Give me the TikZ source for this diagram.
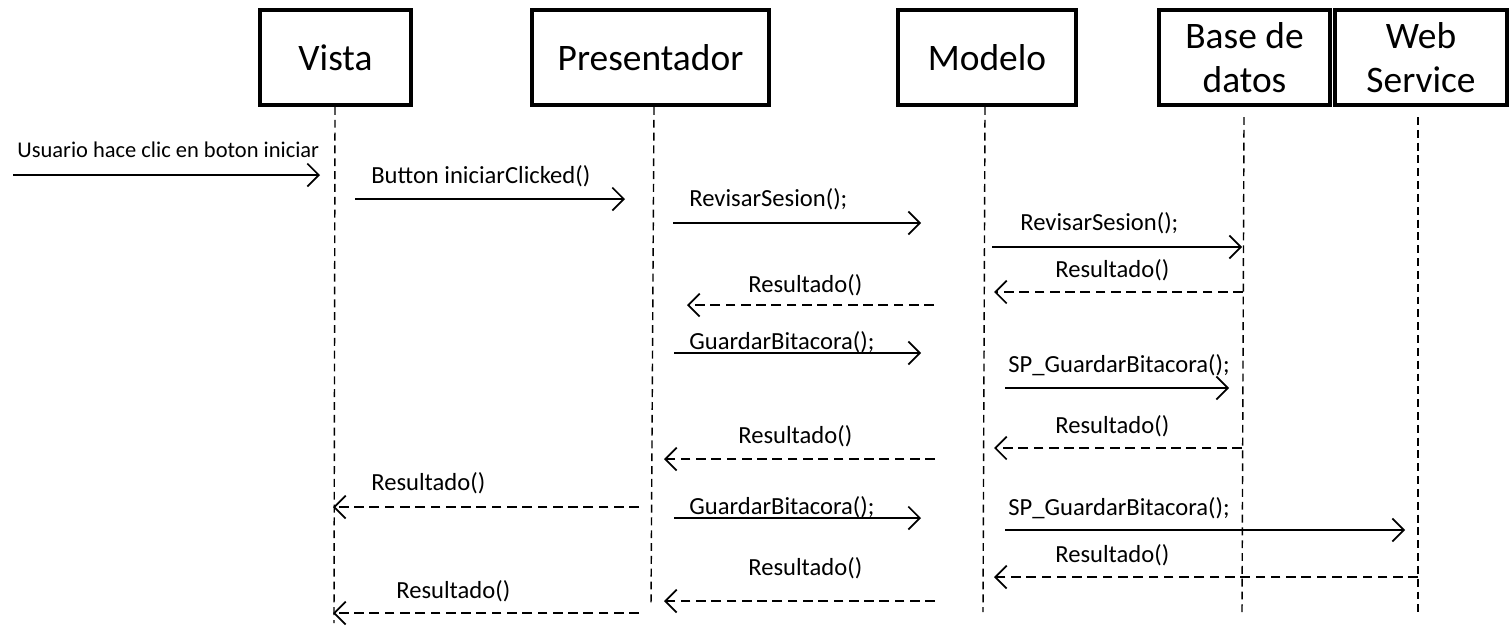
\documentclass[tikz,border=0pt]{standalone}
\usepackage{fontspec}
\setmainfont{Carlito}
\usetikzlibrary{arrows.meta}
\begin{document}
\begin{tikzpicture}[x=0.02cm,y=-0.02cm,
  box/.style={draw,line width=1.9pt,inner sep=0pt,align=center,minimum height=1.9cm,
    font=\fontsize{21.3}{25}\selectfont},
  life/.style={line width=0.8pt,dash pattern=on 4.5pt off 2.8pt},
  msg/.style={line width=1pt,-{Straight Barb[length=6.5pt,width=13pt,line width=1pt]}},
  ret/.style={msg,dash pattern=on 5.5pt off 3.2pt},
  lbl/.style={anchor=base west,inner sep=0pt,font=\fontsize{14}{16}\selectfont}]
\useasboundingbox (0,0) rectangle (1510,627);

% participants
\node[box,minimum width=3.02cm] (vista) at (335.5,57.5) {Vista};
\node[box,minimum width=4.74cm] (pres) at (650.5,57.5) {Presentador};
\node[box,minimum width=3.56cm] (modelo) at (987,57.5) {Modelo};
\node[box,minimum width=3.42cm] (bd) at (1244.5,57.5) {Base de\\datos};
\node[box,minimum width=3.44cm] (ws) at (1421,57.5) {Web\\Service};

% lifelines
\coordinate (vt) at (335,107); \coordinate (vb) at (334,623);
\coordinate (pt) at (654,107); \coordinate (pb) at (651,607);
\coordinate (mt) at (985,107); \coordinate (mb) at (983,612);
\coordinate (bt) at (1244,117); \coordinate (bb) at (1242,612);
\coordinate (wt) at (1418,117); \coordinate (wb) at (1418,612);
\draw[life] (vt) -- (vb);
\draw[life] (pt) -- (pb);
\draw[life] (mt) -- (mb);
\draw[life] (bt) -- (bb);
\draw[life] (wt) -- (wb);

% messages
\coordinate (m1s) at (13,175); \coordinate (m1e) at (320,175);
\draw[msg] (m1s) -- (m1e);
\node[lbl,font=\fontsize{12.8}{15}\selectfont] (l1) at (17,157) {Usuario hace clic en boton iniciar};

\coordinate (m2s) at (355,199); \coordinate (m2e) at (625,199);
\draw[msg] (m2s) -- (m2e);
\node[lbl] (l2) at (371,183) {Button iniciarClicked()};

\coordinate (m3s) at (673,223); \coordinate (m3e) at (921,223);
\draw[msg] (m3s) -- (m3e);
\node[lbl] (l3) at (689,206) {RevisarSesion();};

\coordinate (m4s) at (992,247); \coordinate (m4e) at (1242,247);
\draw[msg] (m4s) -- (m4e);
\node[lbl] (l4) at (1020,230) {RevisarSesion();};

\coordinate (r5s) at (1243,292); \coordinate (r5e) at (994,292);
\draw[ret] (r5s) -- (r5e);
\node[lbl] (l5) at (1055,277) {Resultado()};

\coordinate (r6s) at (934,305); \coordinate (r6e) at (687,305);
\draw[ret] (r6s) -- (r6e);
\node[lbl] (l6) at (748,292) {Resultado()};

\coordinate (m7s) at (674,353); \coordinate (m7e) at (921,353);
\draw[msg] (m7s) -- (m7e);
\node[lbl] (l7) at (689,349) {GuardarBitacora();};

\coordinate (m8s) at (1005,388); \coordinate (m8e) at (1229,388);
\draw[msg] (m8s) -- (m8e);
\node[lbl] (l8) at (1008,372) {SP\_GuardarBitacora();};

\coordinate (r9s) at (1242,448); \coordinate (r9e) at (994,448);
\draw[ret] (r9s) -- (r9e);
\node[lbl] (l9) at (1055,433) {Resultado()};

\coordinate (r10s) at (935,459); \coordinate (r10e) at (664,459);
\draw[ret] (r10s) -- (r10e);
\node[lbl] (l10) at (738,443) {Resultado()};

\coordinate (r11s) at (639,507); \coordinate (r11e) at (333,507);
\draw[ret] (r11s) -- (r11e);
\node[lbl] (l11) at (371,490) {Resultado()};

\coordinate (m12s) at (674,518); \coordinate (m12e) at (921,518);
\draw[msg] (m12s) -- (m12e);
\node[lbl] (l12) at (689,514) {GuardarBitacora();};

\coordinate (m13s) at (1005,530); \coordinate (m13e) at (1405,530);
\draw[msg] (m13s) -- (m13e);
\node[lbl] (l13) at (1008,515) {SP\_GuardarBitacora();};

\coordinate (r14s) at (1418,577); \coordinate (r14e) at (994,577);
\draw[ret] (r14s) -- (r14e);
\node[lbl] (l14) at (1055,562) {Resultado()};

\coordinate (r15s) at (935,601); \coordinate (r15e) at (664,601);
\draw[ret] (r15s) -- (r15e);
\node[lbl] (l15) at (748,575) {Resultado()};

\coordinate (r16s) at (639,613); \coordinate (r16e) at (333,613);
\draw[ret] (r16s) -- (r16e);
\node[lbl] (l16) at (396,598) {Resultado()};
\end{tikzpicture}
\end{document}
